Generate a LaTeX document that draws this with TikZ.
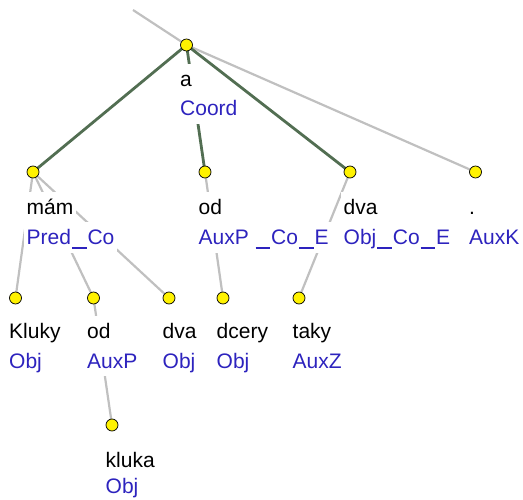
\documentclass[tikz,border=0pt]{standalone}
\usepackage{fontspec}
\setmainfont{Liberation Sans}
\usetikzlibrary{backgrounds}
\definecolor{tagc}{RGB}{45,35,190}
\definecolor{coordg}{RGB}{82,110,82}
\definecolor{edgeg}{RGB}{192,192,192}
\newcommand\us{\kern1pt\rule[-3.6pt]{14.5pt}{1.3pt}\kern1pt}
\begin{document}
\begin{tikzpicture}[x=1pt,y=-1pt,
  dot/.style={circle,draw=black,fill=yellow,minimum size=12pt,inner sep=0pt,line width=0.7pt},
  word/.style={anchor=base west,fill=white,inner xsep=3pt,inner ysep=3pt,text height=20pt,text depth=5pt,font=\fontsize{21}{25}\selectfont,text=black,xshift=-2pt},
  tag/.style={word,text=tagc},
  gedge/.style={draw=edgeg,line width=2.2pt},
  cedge/.style={draw=coordg,line width=2.8pt}]
\useasboundingbox (0,0) rectangle (523,500);
% dots
\coordinate (top) at (133,10);
\node[dot] (a) at (186.5,45) {};
\node[dot] (mam) at (33,172) {};
\node[dot] (od) at (205,172) {};
\node[dot] (dva) at (350,172) {};
\node[dot] (pt) at (475.5,172) {};
\node[dot] (kluky) at (15.5,298) {};
\node[dot] (odb) at (93.5,298) {};
\node[dot] (dvab) at (169,298) {};
\node[dot] (dcery) at (223,298) {};
\node[dot] (taky) at (299,298) {};
\node[dot] (kluka) at (112,425) {};
% edges
\begin{pgfonlayer}{background}
\draw[gedge] (top) -- (a.center);
\draw[gedge] (a.center) -- (pt.center);
\draw[gedge] (mam.center) -- (kluky.center);
\draw[gedge] (mam.center) -- (odb.center);
\draw[gedge] (mam.center) -- (dvab.center);
\draw[gedge] (odb.center) -- (kluka.center);
\draw[gedge] (od.center) -- (dcery.center);
\draw[gedge] (dva.center) -- (taky.center);
\draw[cedge] (a.center) -- (mam.center);
\draw[cedge] (a.center) -- (od.center);
\draw[cedge] (a.center) -- (dva.center);
\end{pgfonlayer}
% labels
\node[word] (wa) at (179,87) {a};
\node[tag] (ta) at (179,116) {Coord};
\node[word] (wmam) at (25.5,215) {mám};
\node[tag] (tmam) at (25.5,245) {Pred\us Co};
\node[word] (wod) at (197.5,215) {od};
\node[tag] (tod) at (197.5,245) {AuxP \us Co\us E};
\node[word] (wdva) at (342.5,215) {dva};
\node[tag] (tdva) at (342.5,245) {Obj\us Co\us E};
\node[word] (wpt) at (468,215) {.};
\node[tag] (tpt) at (468,245) {AuxK};
\node[word] (wkluky) at (8,339) {Kluky};
\node[tag] (tkluky) at (8,368) {Obj};
\node[word] (wodb) at (86,339) {od};
\node[tag] (todb) at (86,368) {AuxP};
\node[word] (wdvab) at (161.5,339) {dva};
\node[tag] (tdvab) at (161.5,368) {Obj};
\node[word] (wdcery) at (215.5,339) {dcery};
\node[tag] (tdcery) at (215.5,368) {Obj};
\node[word] (wtaky) at (291.5,339) {taky};
\node[tag] (ttaky) at (291.5,368) {AuxZ};
\node[word] (wkluka) at (104.5,467) {kluka};
\node[tag] (tkluka) at (104.5,493) {Obj};
\end{tikzpicture}
\end{document}
